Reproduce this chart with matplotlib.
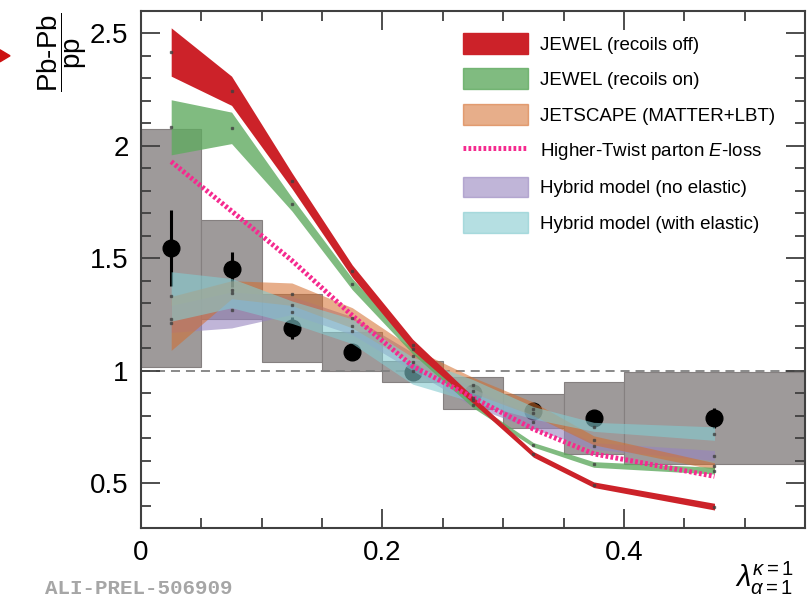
import numpy as np
import matplotlib
matplotlib.use('Agg')
import matplotlib.pyplot as plt
from matplotlib.patches import Patch, Polygon, Rectangle
from matplotlib.lines import Line2D
from matplotlib.ticker import MultipleLocator, FormatStrFormatter

plt.rcParams['font.family'] = ['Liberation Sans', 'DejaVu Sans']
plt.rcParams['mathtext.fontset'] = 'custom'
plt.rcParams['mathtext.rm'] = 'Liberation Sans'
plt.rcParams['mathtext.it'] = 'Liberation Sans:italic'

#Bins
edges = [0, 0.05, 0.1, 0.15, 0.2, 0.25, 0.3, 0.35, 0.4, 0.55]
x_c = [0.025, 0.075, 0.125, 0.175, 0.225, 0.275, 0.325, 0.375, 0.475]

#ALICE data
ratio = [1.545, 1.45, 1.19, 1.085, 0.995, 0.90, 0.82, 0.79, 0.79]
stat_err = [0.17, 0.08, 0.05, 0.02, 0.015, 0.015, 0.02, 0.02, 0.045]
sys_err = [0.53, 0.22, 0.15, 0.087, 0.047, 0.07, 0.075, 0.16, 0.205]

#Models (band low / high)
jewel_off_lo = [2.31, 2.18, 1.81, 1.415, 1.09, 0.855, 0.615, 0.48, 0.38]
jewel_off_hi = [2.525, 2.31, 1.88, 1.47, 1.14, 0.885, 0.64, 0.505, 0.41]
jewel_on_lo = [1.96, 2.01, 1.71, 1.36, 1.075, 0.835, 0.66, 0.57, 0.54]
jewel_on_hi = [2.205, 2.15, 1.77, 1.41, 1.115, 0.86, 0.68, 0.595, 0.57]
jetscape_lo = [1.09, 1.32, 1.29, 1.19, 1.03, 0.90, 0.80, 0.67, 0.56]
jetscape_hi = [1.33, 1.40, 1.39, 1.28, 1.10, 0.97, 0.86, 0.71, 0.59]
hybrid_lo = [1.17, 1.19, 1.25, 1.16, 1.00, 0.84, 0.74, 0.65, 0.60]
hybrid_hi = [1.29, 1.35, 1.33, 1.24, 1.08, 0.92, 0.80, 0.68, 0.645]
hybrid_el_lo = [1.22, 1.28, 1.21, 1.12, 0.94, 0.86, 0.785, 0.73, 0.69]
hybrid_el_hi = [1.44, 1.41, 1.31, 1.23, 1.06, 0.96, 0.84, 0.77, 0.75]
higher_twist = [1.93, 1.71, 1.49, 1.245, 1.02, 0.88, 0.74, 0.63, 0.53]

labels = ['JEWEL (recoils off)', 'JEWEL (recoils on)', 'JETSCAPE (MATTER+LBT)',
          'Higher-Twist parton $E$-loss', 'Hybrid model (no elastic)',
          'Hybrid model (with elastic)']

fig = plt.figure(figsize=(8.09, 6), dpi=100)
ax = fig.add_axes([0.1743, 0.12, 0.8208, 0.8617])

#Systematic boxes
for i in range(len(x_c)):
    ax.add_patch(Rectangle((edges[i], ratio[i] - sys_err[i]), edges[i+1] - edges[i],
                           2 * sys_err[i], facecolor='#9e9a9a', edgecolor='#858080',
                           lw=0.8, zorder=1))
ax.axhline(1, color='#808080', ls=(0, (5, 3.3)), lw=1.3, zorder=1.5)

#Data points
ax.errorbar(x_c, ratio, yerr=stat_err, fmt='o', color='black', ms=12,
            elinewidth=2.2, capsize=0, zorder=2)

#Model bands
x = np.array(x_c)
c_red = '#cc2229'
c_green = '#60aa60'
c_orange = '#d46c2b'
c_purple = '#9684be'
c_cyan = '#84cbd0'
c_mag = '#f52a8f'
ax.fill_between(x, hybrid_lo, hybrid_hi, color=c_purple, alpha=0.6, lw=0, zorder=3)
ax.fill_between(x, jetscape_lo, jetscape_hi, color=c_orange, alpha=0.55, lw=0, zorder=3.1)
ax.fill_between(x, hybrid_el_lo, hybrid_el_hi, color=c_cyan, alpha=0.6, lw=0, zorder=3.2)
ax.fill_between(x, jewel_on_lo, jewel_on_hi, color=c_green, alpha=0.8, lw=0, zorder=3.3)
ax.fill_between(x, jewel_off_lo, jewel_off_hi, color=c_red, lw=0, zorder=3.4)
ax.plot(x, higher_twist, color=c_mag, lw=3.6, ls=(0, (0.55, 0.45)), zorder=4)

#small central markers of the bands
for lo, hi in [(jewel_off_lo, jewel_off_hi), (jewel_on_lo, jewel_on_hi),
               (jetscape_lo, jetscape_hi), (hybrid_lo, hybrid_hi),
               (hybrid_el_lo, hybrid_el_hi)]:
    ax.plot(x, (np.array(lo) + np.array(hi)) / 2, 's', ms=1.5, color='#404040',
            alpha=0.7, zorder=4.5)

#Legend
handles = [Patch(color=c_red),
           Patch(color=c_green, alpha=0.8),
           Patch(color=c_orange, alpha=0.55),
           Line2D([], [], color=c_mag, lw=3.6, ls=(0, (0.55, 0.45))),
           Patch(color=c_purple, alpha=0.6),
           Patch(color=c_cyan, alpha=0.6)]
ax.legend(handles, labels, loc='upper left', bbox_to_anchor=(0.46, 0.99),
          frameon=False, fontsize=13.5, handlelength=3.45, handleheight=1.33,
          labelspacing=0.78, handletextpad=0.62)

#Axes
ax.set_xlim(0, 0.55)
ax.set_ylim(0.3, 2.6)
ax.xaxis.set_major_locator(MultipleLocator(0.2))
ax.xaxis.set_minor_locator(MultipleLocator(0.05))
ax.yaxis.set_major_locator(MultipleLocator(0.5))
ax.yaxis.set_minor_locator(MultipleLocator(0.1))
ax.xaxis.set_major_formatter(FormatStrFormatter('%g'))
ax.yaxis.set_major_formatter(FormatStrFormatter('%g'))
ax.tick_params(which='both', direction='in', top=True, right=True,
               color='#404040', width=1.3)
ax.tick_params(which='major', length=14, labelsize=20, pad=9)
ax.tick_params(which='minor', length=7)
for s in ax.spines.values():
    s.set_color('#404040')
    s.set_linewidth(1.5)

#Labels
fig.text(0.077, 0.913, r'$\dfrac{\text{Pb-Pb}}{\text{pp}}$', rotation=90,
         fontsize=20, ha='center', va='center')
fig.text(0.908, 0.036, r'$\lambda^{\kappa=1}_{\alpha=1}$', fontsize=21,
         ha='left', va='center')
fig.text(0.056, 0.02, 'ALI-PREL-506909', family='Liberation Mono',
         weight='bold', fontsize=15, color='#a6a6a6', ha='left', va='center')
fig.add_artist(Polygon([[0, 0.917], [0.0124, 0.907], [0, 0.897]], closed=True,
                       transform=fig.transFigure, color='#cc1111'))

plt.savefig('out.png', dpi=100)
